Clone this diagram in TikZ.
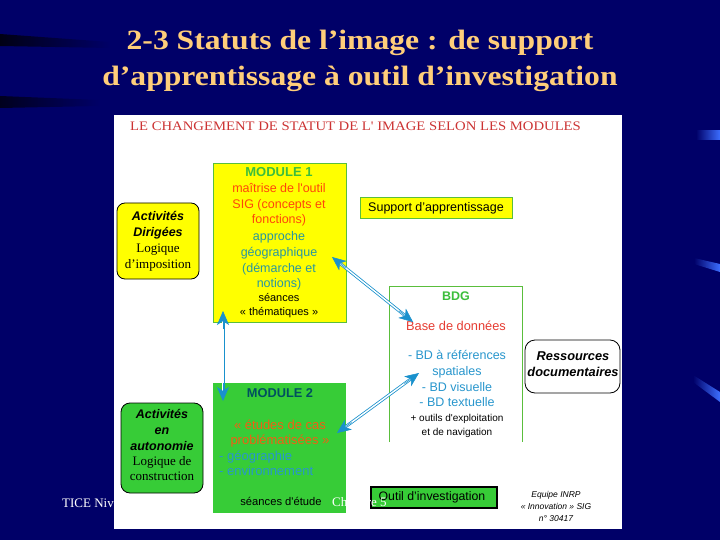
\documentclass[tikz,border=0pt]{standalone}
\usepackage{fontspec}
\setmainfont{Liberation Serif}
\newfontfamily\arial{Liberation Sans}
\newfontfamily\titlefont[FakeStretch=1.13]{Liberation Serif}
\usetikzlibrary{arrows.meta,calc}
\definecolor{bg}{RGB}{0,0,104}
\definecolor{titlec}{RGB}{255,206,122}
\definecolor{hdrred}{RGB}{204,51,51}
\definecolor{yel}{RGB}{255,255,0}
\definecolor{grn}{RGB}{55,204,55}
\definecolor{grnline}{RGB}{90,190,60}
\definecolor{mgreen}{RGB}{60,190,60}
\definecolor{orred}{RGB}{255,70,10}
\definecolor{tealc}{RGB}{40,150,160}
\definecolor{bdblue}{RGB}{40,150,205}
\definecolor{bdred}{RGB}{230,60,50}
\definecolor{arrb}{RGB}{25,145,205}
\definecolor{mtwo}{RGB}{0,80,95}
\definecolor{morange}{RGB}{240,95,20}
\definecolor{streak}{RGB}{60,110,255}
\begin{document}
\begin{tikzpicture}[x=1pt,y=-1pt,
  txt/.style={inner sep=0pt, text height=0.72em, text depth=0.2em},
  sf/.style={txt, font=\arial\fontsize{#1}{#1}\selectfont},
  sfb/.style={txt, font=\arial\bfseries\fontsize{#1}{#1}\selectfont},
  sfbi/.style={txt, font=\arial\bfseries\itshape\fontsize{#1}{#1}\selectfont},
  sfi/.style={txt, font=\arial\itshape\fontsize{#1}{#1}\selectfont},
  rm/.style={txt, font=\fontsize{#1}{#1}\selectfont},
  boxn/.style={anchor=north west, inner sep=0pt, outer sep=0pt},
  dbl/.style={draw=arrb, line width=0.8pt, double=white, double distance=1.4pt},
  tipa/.style={draw=arrb, fill=arrb, line width=0.5pt, -{Stealth[length=14pt,width=12pt,inset=4pt]}}
]
\useasboundingbox (0,0) rectangle (720,540);
\fill[bg] (0,0) rectangle (720,540);
% background streaks
\shade[left color=black, right color=bg, opacity=0.8] (0,34) -- (110,42) -- (110,48) -- (0,46) -- cycle;
\shade[left color=black, right color=bg, opacity=0.7] (0,96) -- (100,100) -- (100,106) -- (0,108) -- cycle;
\shade[left color=bg, right color=streak] (696,131) rectangle (720,140);
\shade[left color=bg, right color=streak] (694,258) -- (720,264) -- (720,272) -- (694,264) -- cycle;
\shade[left color=bg, right color=streak] (693,375) -- (720,392) -- (720,402) -- (693,382) -- cycle;

% title
\node[anchor=base, text=titlec, font=\titlefont\bfseries\fontsize{28}{30}\selectfont, inner sep=0pt] (t1) at (360,50) {2-3 Statuts de l’image : de support};
\node[anchor=base, text=titlec, font=\titlefont\bfseries\fontsize{28}{30}\selectfont, inner sep=0pt] (t2) at (360,86) {d’apprentissage à outil d’investigation};

% panel
\node[boxn, fill=white, minimum width=508pt, minimum height=414pt] (panel) at (114,115) {};
\node[anchor=base west, text=hdrred, font=\titlefont\fontsize{13}{15}\selectfont, inner sep=0pt] (hdr) at (130,131) {LE CHANGEMENT DE STATUT DE L' IMAGE SELON LES MODULES};

% module 1
\node[boxn, draw=grnline, fill=yel, line width=1pt, minimum width=133pt, minimum height=158pt] (m1) at (213,164) {};
\node[sfb=13, text=mgreen] (m1a) at (279,174) {MODULE 1};
\node[sf=12.5, text=orred] (m1b) at (279,190) {maîtrise de l'outil};
\node[sf=12.5, text=orred] (m1c) at (279,206) {SIG (concepts et};
\node[sf=12.5, text=orred] (m1d) at (279,221) {fonctions)};
\node[sf=12.5, text=tealc] (m1e) at (279,238) {approche};
\node[sf=12.5, text=tealc] (m1f) at (279,254) {géographique};
\node[sf=12.5, text=tealc] (m1g) at (279,270) {(démarche et};
\node[sf=12.5, text=tealc] (m1h) at (279,285) {notions)};
\node[sf=11, text=black] (m1i) at (279,299) {séances};
\node[sf=11, text=black] (m1j) at (279,313) {« thématiques »};

% activites dirigees
\node[boxn, draw=black, fill=yel, line width=0.8pt, rounded corners=8pt, minimum width=82pt, minimum height=76pt] (ad) at (117,203) {};
\node[sfbi=12.5] (ad1) at (158,218) {Activités};
\node[sfbi=12.5] (ad2) at (158,234) {Dirigées};
\node[rm=13] (ad3) at (158,250) {Logique};
\node[rm=13] (ad4) at (158,266) {d’imposition};

% support
\node[boxn, draw=grnline, fill=yel, line width=1pt, minimum width=152pt, minimum height=21pt] (sup) at (360,198) {};
\node[sf=12.5] (supt) at (436,209) {Support d’apprentissage};

% BDG
\node[boxn, minimum width=133pt, minimum height=156pt] (bdg) at (389,286) {};
\draw[grnline, line width=0.9pt] (bdg.south west) |- (bdg.north east) -- (bdg.south east);
\node[sfb=12.5, text=mgreen] (b1) at (456,298) {BDG};
\node[sf=12.8, text=bdred] (b2) at (456,328) {Base de données};
\node[sf=12.5, text=bdblue] (b3) at (457,357) {- BD à références};
\node[sf=12.5, text=bdblue] (b4) at (457,373) {spatiales};
\node[sf=12.5, text=bdblue] (b5) at (457,389) {- BD visuelle};
\node[sf=12.5, text=bdblue] (b6) at (457,404) {- BD textuelle};
\node[sf=10] (b7) at (457,419) {+ outils d'exploitation};
\node[sf=10] (b8) at (457,433) {et de navigation};

% ressources
\node[boxn, draw=black, line width=0.8pt, rounded corners=10pt, minimum width=95pt, minimum height=53pt] (res) at (525,340) {};
\node[sfbi=12.8] (r1) at (573,358) {Ressources};
\node[sfbi=12.8] (r2) at (573,374) {documentaires};

% module 2
\node[boxn, fill=grn, minimum width=133pt, minimum height=130pt] (m2) at (213,383) {};
\node[sfb=12.8, text=mtwo] (m2a) at (280,395) {MODULE 2};
\node[sf=13, text=morange] (m2b) at (280,427) {« études de cas};
\node[sf=13, text=morange] (m2c) at (280,442) {problématisées »};
\node[sf=13, text=bdblue, anchor=west] (m2d) at (219,458) {- géographie};
\node[sf=13, text=bdblue, anchor=west] (m2e) at (219,473) {- environnement};
\node[sf=11.2] (m2f) at (281,503) {séances d'étude};

% activites autonomie
\node[boxn, draw=black, fill=grn, line width=0.8pt, rounded corners=9pt, minimum width=82pt, minimum height=90pt] (aa) at (121,403) {};
\node[sfbi=12.5] (aa1) at (162,416) {Activités};
\node[sfbi=12.5] (aa2) at (162,432) {en};
\node[sfbi=12.5] (aa3) at (162,448) {autonomie};
\node[rm=13] (aa4) at (162,463) {Logique de};
\node[rm=13] (aa5) at (162,478) {construction};

% outil
\node[boxn, draw=black, fill=grn, line width=1.6pt, minimum width=126pt, minimum height=21pt] (out) at (371,487) {};
\node[sf=12.3] (outt) at (432,497.5) {Outil d’investigation};

% equipe
\node[sfi=8.5] (e1) at (556,495) {Equipe INRP};
\node[sfi=8.5] (e2) at (556,507) {« Innovation » SIG};
\node[sfi=8.5] (e3) at (556,519) {n° 30417};

% arrows
\coordinate (a1s) at (332,257);
\coordinate (a1e) at (413,322);
\coordinate (a2s) at (223,311);
\coordinate (a2e) at (223,401);
\coordinate (a3s) at (419,373);
\coordinate (a3e) at (337,433);
\draw[dbl, shorten <=10pt, shorten >=10pt] (a1s) -- (a1e);
\draw[dbl, shorten <=10pt, shorten >=10pt] (a2s) -- (a2e);
\draw[dbl, shorten <=10pt, shorten >=10pt] (a3s) -- (a3e);
\foreach \p/\q in {a1s/a1e, a1e/a1s, a2s/a2e, a2e/a2s, a3s/a3e, a3e/a3s}
  \draw[tipa] ($(\p)!18pt!(\q)$) -- (\p);

% footer
\node[anchor=west, text=white, font=\fontsize{13}{15}\selectfont, inner sep=0pt] (f1) at (62,503) {TICE Niv};
\node[anchor=west, text=white, font=\fontsize{13}{15}\selectfont, inner sep=0pt] (f2) at (332,503) {Chapitre 5};
\end{tikzpicture}
\end{document}
